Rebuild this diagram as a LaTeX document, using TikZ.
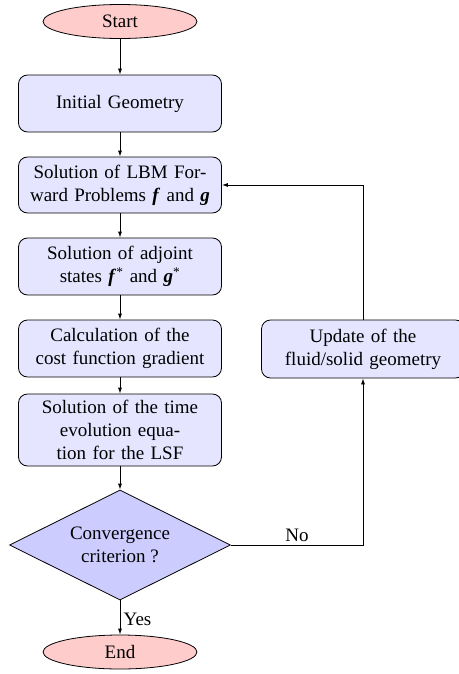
\documentclass[tikz,border=0pt]{standalone}
\usepackage{fontspec}
\setmainfont{Liberation Serif}
\usetikzlibrary{shapes.geometric,arrows.meta}
\begin{document}
\begin{tikzpicture}[x=1pt,y=1pt,
  every node/.style={font=\fontsize{19}{22.8}\selectfont},
  term/.style={ellipse,draw,fill=red!20,line width=0.8pt,minimum width=154pt,minimum height=34pt,inner sep=0pt},
  proc/.style={rectangle,rounded corners=9pt,draw,fill=blue!10,line width=0.8pt,minimum width=203pt,text width=190pt,align=center,inner sep=0pt},
  decide/.style={diamond,draw,fill=blue!20,line width=0.8pt,shape aspect=2,minimum width=221pt,minimum height=110pt,inner sep=0pt,align=center},
  conn/.style={line width=0.8pt,-{Latex[length=6pt,width=4pt]}},
  plain/.style={line width=0.8pt}]
\useasboundingbox (0,0) rectangle (458,-674);
\newcommand{\bfi}[1]{\textbf{\textit{#1}}}
\node[term] (start) at (120,-21.5) {Start};
\node[proc,minimum height=57pt] (init) at (120,-103.5) {Initial Geometry};
\node[proc,minimum height=56pt] (lbm) at (120,-185) {Solution of LBM For-\\ward Problems \bfi{f} and \bfi{g}};
\node[proc,minimum height=57pt] (adj) at (120,-266.5) {Solution of adjoint\\states \bfi{f}\textsuperscript{*} and \bfi{g}\textsuperscript{*}};
\node[proc,minimum height=57pt] (calc) at (120,-348.5) {Calculation of the\\cost function gradient};
\node[proc,minimum height=72pt] (time) at (120,-430) {Solution of the time\\evolution equa-\\tion for the LSF};
\node[decide] (dec) at (120,-545) {Convergence\\criterion ?};
\node[term] (end) at (120,-652) {End};
\node[proc,minimum height=58pt] (upd) at (363,-349) {Update of the\\fluid/solid geometry};
\draw[conn] (start) -- (init);
\draw[conn] (init) -- (lbm);
\draw[conn] (lbm) -- (adj);
\draw[conn] (adj) -- (calc);
\draw[conn] (calc) -- (time);
\draw[conn] (time) -- (dec);
\draw[conn] (dec) -- node[right,pos=0.55] {Yes} (end);
\draw[conn] (dec.east) -- node[above] {No} (upd.south |- dec.east) -- (upd.south);
\draw[conn] (upd.north) -- (upd.north |- lbm.east) -- (lbm.east);
\end{tikzpicture}
\end{document}
